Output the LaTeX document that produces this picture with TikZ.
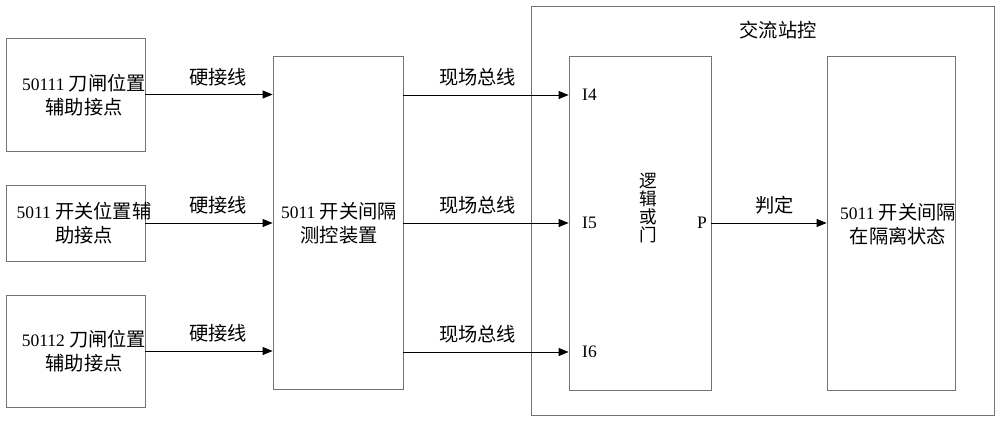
\documentclass[tikz,border=0pt]{standalone}
\usepackage{fontspec}
\setmainfont{Liberation Serif}
\newfontfamily\cjk[Scale=1.1]{Noto Sans CJK SC}
\usetikzlibrary{arrows.meta}
\begin{document}
\begin{tikzpicture}[x=1pt,y=-1pt,
  every node/.style={font=\fontsize{17.5}{24}\selectfont, inner sep=0pt},
  box/.style={draw=black!55, line width=0.8pt},
  arr/.style={draw=black, line width=0.9pt, -{Triangle[length=10pt,width=8pt]}},
  lbl/.style={above=8pt}]
\useasboundingbox (0,0) rectangle (1000,420);
% outer station box
\node[box, minimum width=463pt, minimum height=409pt] (outer) at (762.5,210.5) {};
\node (title) at (778,30) {\cjk 交流站控};
% left boxes
\node[box, minimum width=139pt, minimum height=113pt] (b1) at (75.5,94.5) {};
\node[box, minimum width=139pt, minimum height=76pt] (b2) at (75.5,223) {};
\node[box, minimum width=139pt, minimum height=112pt] (b3) at (75.5,351) {};
\node[align=center] (t1) at (84,95) {50111 {\cjk 刀闸位置}\\{\cjk 辅助接点}};
\node[align=center] (t2) at (84,223) {5011 {\cjk 开关位置辅}\\{\cjk 助接点}};
\node[align=center] (t3) at (84,351) {50112 {\cjk 刀闸位置}\\{\cjk 辅助接点}};
% middle device box
\node[box, minimum width=130pt, minimum height=333pt] (mid) at (338,222.5) {};
\node[align=center] (tm) at (339,223) {5011 {\cjk 开关间隔}\\{\cjk 测控装置}};
% logic OR box
\node[box, minimum width=142pt, minimum height=334pt] (logic) at (640,223) {};
\node[align=center, font=\fontsize{16}{18}\selectfont] (tl) at (648,208) {{\cjk 逻}\\{\cjk 辑}\\{\cjk 或}\\{\cjk 门}};
\node[anchor=west] (i4) at (582,95) {I4};
\node[anchor=west] (i5) at (582,223) {I5};
\node[anchor=west] (i6) at (582,352) {I6};
\node[anchor=east] (p) at (707,223) {P};
% result box
\node[box, minimum width=128pt, minimum height=334pt] (res) at (891,223) {};
\node[align=center] (tr) at (898,224) {5011 {\cjk 开关间隔}\\{\cjk 在隔离状态}};
% hard-wired connections
\draw[arr] (b1.east) -- node[lbl, pos=0.57] {\cjk 硬接线} (b1.east -| mid.west);
\draw[arr] (b2.east) -- node[lbl, pos=0.57] {\cjk 硬接线} (b2.east -| mid.west);
\draw[arr] (b3.east) -- node[lbl, pos=0.57] {\cjk 硬接线} (b3.east -| mid.west);
% field bus connections
\draw[arr] (mid.east |- i4.west) -- node[lbl, pos=0.45] {\cjk 现场总线} (logic.west |- i4.west);
\draw[arr] (mid.east |- i5.west) -- node[lbl, pos=0.45] {\cjk 现场总线} (logic.west |- i5.west);
\draw[arr] (mid.east |- i6.west) -- node[lbl, pos=0.45] {\cjk 现场总线} (logic.west |- i6.west);
% decision
\draw[arr] (logic.east) -- node[lbl, pos=0.55] {\cjk 判定} (res.west);
\end{tikzpicture}
\end{document}
